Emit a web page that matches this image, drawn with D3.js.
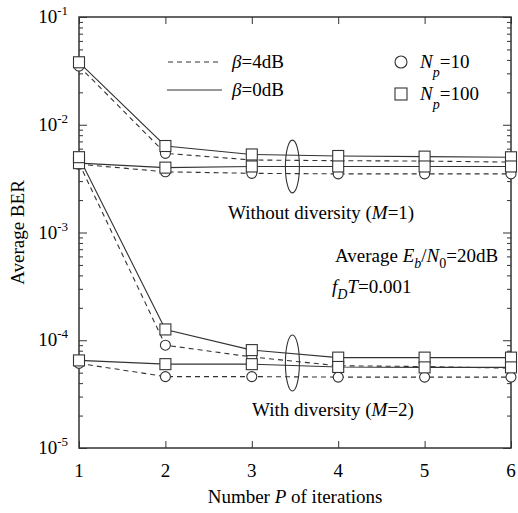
<!DOCTYPE html>
<html>
<head>
<meta charset="utf-8">
<script src="https://cdn.jsdelivr.net/npm/d3@7"></script>
<style>
  body { margin: 0; background: #fff; }
  svg { display: block; font-family: "Liberation Serif", "Times New Roman", serif; }
  .axis path, .axis line { stroke: #333; }
</style>
</head>
<body>
<svg id="chart"></svg>
<script>
// Iterations on x axis
const iterations = [1, 2, 3, 4, 5, 6];
const yTickExps = [-1, -2, -3, -4, -5];

// Without diversity (M=1)
const m1SolidHigh = [3.8e-2, 6.35e-3, 5.3e-3, 5.13e-3, 5.06e-3, 4.99e-3];
const m1DashedHigh = [3.5e-2, 5.43e-3, 4.71e-3, 4.64e-3, 4.6e-3, 4.5e-3];
const m1SolidLow = [4.4e-3, 4.0e-3, 4.1e-3, 4.1e-3, 4.1e-3, 4.1e-3];
const m1DashedLow = [4.3e-3, 3.66e-3, 3.54e-3, 3.5e-3, 3.5e-3, 3.5e-3];

// With diversity (M=2)
const m2SolidHigh = [5.0e-3, 1.26e-4, 8.1e-5, 6.9e-5, 6.9e-5, 6.9e-5];
const m2DashedHigh = [4.4e-3, 9.0e-5, 7.0e-5, 5.8e-5, 5.7e-5, 5.5e-5];
const m2SolidLow = [6.5e-5, 6.0e-5, 6.0e-5, 5.65e-5, 5.6e-5, 5.6e-5];
const m2DashedLow = [6.1e-5, 4.6e-5, 4.6e-5, 4.55e-5, 4.55e-5, 4.55e-5];

const width = 518, height = 513;
const margin = { top: 17, right: 7, bottom: 65, left: 79 };
const innerWidth = width - margin.left - margin.right;
const innerHeight = height - margin.top - margin.bottom;
const ink = '#333';

const svg = d3.select('#chart')
  .attr('width', width)
  .attr('height', height);

const g = svg.append('g')
  .attr('transform', `translate(${margin.left},${margin.top})`);

const x = d3.scaleLinear().domain([1, 6]).range([0, innerWidth]);
const y = d3.scaleLog().domain([1e-5, 1e-1]).range([innerHeight, 0]);

// minor log ticks
const minorTicks = [];
for (let e = -5; e < -1; e++) {
  for (let k = 2; k <= 9; k++) minorTicks.push(k * Math.pow(10, e));
}
const majorTicks = yTickExps.map(e => Math.pow(10, e));

// strip the domain path and the empty tick texts
const ticksOnly = s => {
  s.select('.domain').remove();
  s.selectAll('text').remove();
};

// frame
g.append('rect')
  .attr('width', innerWidth)
  .attr('height', innerHeight)
  .attr('fill', 'none')
  .attr('stroke', ink)
  .attr('stroke-width', 1.5);

// x ticks (bottom + top, inward)
g.append('g')
  .attr('class', 'axis')
  .attr('transform', `translate(0,${innerHeight})`)
  .call(d3.axisBottom(x).tickValues(iterations).tickSize(-7))
  .call(ticksOnly);

g.append('g')
  .attr('class', 'axis')
  .call(d3.axisTop(x).tickValues(iterations).tickSize(-7))
  .call(ticksOnly);

// y ticks (left + right, inward)
[['left', 0], ['right', innerWidth]].forEach(([side, tx]) => {
  const make = side === 'left' ? d3.axisLeft : d3.axisRight;
  g.append('g')
    .attr('class', 'axis')
    .attr('transform', `translate(${tx},0)`)
    .call(make(y).tickValues(minorTicks).tickSize(-4))
    .call(ticksOnly);
  g.append('g')
    .attr('class', 'axis')
    .attr('transform', `translate(${tx},0)`)
    .call(make(y).tickValues(majorTicks).tickSize(-8))
    .call(ticksOnly);
});

// x tick labels
g.selectAll('.xlab')
  .data(iterations)
  .enter()
  .append('text')
    .attr('x', d => x(d))
    .attr('y', innerHeight + 29)
    .attr('text-anchor', 'middle')
    .style('font-size', '19px')
    .text(d => d);

// y tick labels 10^-k
const ylab = g.selectAll('.ylab')
  .data(yTickExps)
  .enter()
  .append('text')
    .attr('x', -11)
    .attr('y', d => y(Math.pow(10, d)) + 6)
    .attr('text-anchor', 'end')
    .style('font-size', '19px');
ylab.append('tspan').text('10');
ylab.append('tspan')
  .attr('dy', -8)
  .style('font-size', '13px')
  .text(d => '-' + Math.abs(d));

// axis titles
svg.append('text')
  .attr('x', margin.left + innerWidth / 2)
  .attr('y', 503)
  .attr('text-anchor', 'middle')
  .style('font-size', '19px')
  .call(t => {
    t.append('tspan').text('Number ');
    t.append('tspan').style('font-style', 'italic').text('P');
    t.append('tspan').text(' of iterations');
  });

svg.append('text')
  .attr('transform', `translate(24,${margin.top + innerHeight / 2}) rotate(-90)`)
  .attr('text-anchor', 'middle')
  .style('font-size', '19px')
  .text('Average BER');

// series
const series = [
  { values: m1SolidHigh, dash: null, marker: 'square' },
  { values: m1DashedHigh, dash: '5,4', marker: 'circle' },
  { values: m1SolidLow, dash: null, marker: 'square' },
  { values: m1DashedLow, dash: '5,4', marker: 'circle' },
  { values: m2SolidHigh, dash: null, marker: 'square' },
  { values: m2DashedHigh, dash: '5,4', marker: 'circle' },
  { values: m2SolidLow, dash: null, marker: 'square' },
  { values: m2DashedLow, dash: '5,4', marker: 'circle' }
];

const line = d3.line()
  .x((d, i) => x(iterations[i]))
  .y(d => y(d));

series.forEach(s => {
  g.append('path')
    .datum(s.values)
    .attr('fill', 'none')
    .attr('stroke', ink)
    .attr('stroke-width', 1.1)
    .attr('stroke-dasharray', s.dash)
    .attr('d', line);
});

// ellipses grouping the curves
const loops = [
  { at: 3.47, top: 7.2e-3, bottom: 2.33e-3 },
  { at: 3.47, top: 1.12e-4, bottom: 3.38e-5 }
];
loops.forEach(l => {
  g.append('ellipse')
    .attr('cx', x(l.at))
    .attr('cy', (y(l.top) + y(l.bottom)) / 2)
    .attr('rx', 7)
    .attr('ry', (y(l.bottom) - y(l.top)) / 2)
    .attr('fill', 'none')
    .attr('stroke', ink)
    .attr('stroke-width', 1.1);
});

// markers: circles first, squares on top
const drawMarkers = (grp, kind, values) => {
  if (kind === 'circle') {
    grp.selectAll(null)
      .data(values)
      .enter()
      .append('circle')
        .attr('cx', (d, i) => x(iterations[i]))
        .attr('cy', d => y(d))
        .attr('r', 5)
        .attr('fill', '#fff')
        .attr('stroke', ink)
        .attr('stroke-width', 1.1);
  } else {
    grp.selectAll(null)
      .data(values)
      .enter()
      .append('rect')
        .attr('x', (d, i) => x(iterations[i]) - 5.5)
        .attr('y', d => y(d) - 5.5)
        .attr('width', 11)
        .attr('height', 11)
        .attr('fill', '#fff')
        .attr('stroke', ink)
        .attr('stroke-width', 1.1);
  }
};
const markerLayer = g.append('g');
series.filter(s => s.marker === 'circle').forEach(s => drawMarkers(markerLayer, 'circle', s.values));
series.filter(s => s.marker === 'square').forEach(s => drawMarkers(markerLayer, 'square', s.values));

// legend: line styles
const lg = svg.append('g');
lg.append('line')
  .attr('x1', 168).attr('x2', 221).attr('y1', 62).attr('y2', 62)
  .attr('stroke', ink).attr('stroke-width', 1.1).attr('stroke-dasharray', '5,4');
lg.append('line')
  .attr('x1', 167).attr('x2', 222).attr('y1', 90).attr('y2', 90)
  .attr('stroke', ink).attr('stroke-width', 1.1);
[['4dB', 68], ['0dB', 96]].forEach(([lab, yy]) => {
  const t = lg.append('text').attr('x', 232).attr('y', yy).style('font-size', '19px');
  t.append('tspan').style('font-style', 'italic').text('β');
  t.append('tspan').text('=' + lab);
});

// legend: markers
lg.append('circle')
  .attr('cx', 401).attr('cy', 62).attr('r', 6)
  .attr('fill', '#fff').attr('stroke', ink).attr('stroke-width', 1.1);
lg.append('rect')
  .attr('x', 395).attr('y', 88).attr('width', 12).attr('height', 12)
  .attr('fill', '#fff').attr('stroke', ink).attr('stroke-width', 1.1);
[['10', 68], ['100', 100]].forEach(([lab, yy]) => {
  const t = lg.append('text').attr('x', 420).attr('y', yy).style('font-size', '19px');
  t.append('tspan').style('font-style', 'italic').text('N');
  t.append('tspan').attr('dy', 9).style('font-style', 'italic').style('font-size', '14px').text('p');
  t.append('tspan').attr('dy', -9).text('=' + lab);
});

// annotations
const note = (xx, yy, parts) => {
  const t = svg.append('text').attr('x', xx).attr('y', yy).style('font-size', '19px');
  parts.forEach(p => {
    const ts = t.append('tspan').text(p.t);
    if (p.i) ts.style('font-style', 'italic');
    if (p.sub) ts.attr('dy', p.sub).style('font-size', '14px');
    if (p.dy) ts.attr('dy', p.dy);
  });
};
note(228, 219, [{ t: 'Without diversity (' }, { t: 'M', i: true }, { t: '=1)' }]);
note(252, 416, [{ t: 'With diversity (' }, { t: 'M', i: true }, { t: '=2)' }]);
note(335, 262, [
  { t: 'Average ' }, { t: 'E', i: true }, { t: 'b', i: true, sub: 6 },
  { t: '/', dy: -6 }, { t: 'N', i: true }, { t: '0', sub: 6 }, { t: '=20dB', dy: -6 }
]);
note(332, 293, [
  { t: 'f', i: true }, { t: 'D', i: true, sub: 6 }, { t: 'T', i: true, dy: -6 }, { t: '=0.001' }
]);
</script>
</body>
</html>
